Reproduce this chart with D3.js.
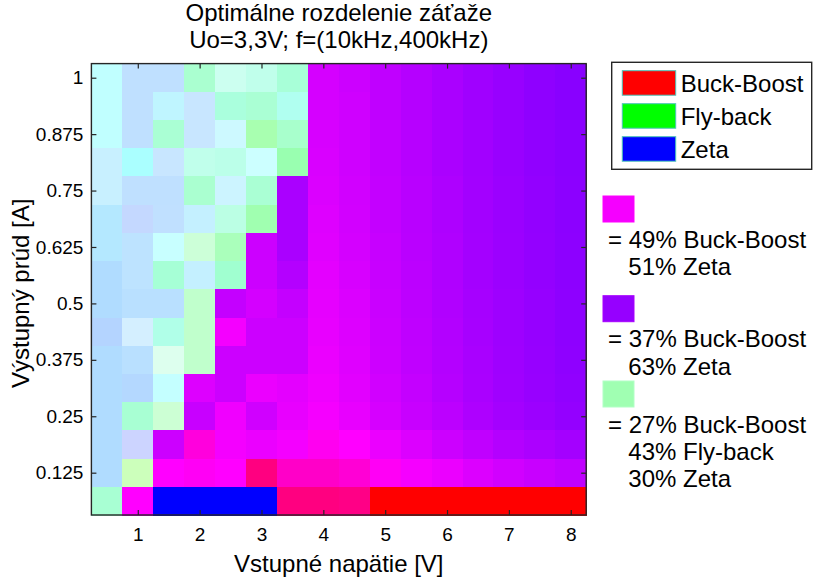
<!DOCTYPE html>
<html>
<head>
<meta charset="utf-8">
<script src="https://cdn.jsdelivr.net/npm/d3@7"></script>
<style>
  body { margin: 0; background: #fff; }
  text { font-family: "Liberation Sans", Arial, sans-serif; fill: #000; }
</style>
</head>
<body>
<div id="chart"></div>
<script>
// input voltage [V] (columns) and output current [A] (rows, top to bottom)
var voltages = [0.5, 1, 1.5, 2, 2.5, 3, 3.5, 4, 4.5, 5, 5.5, 6, 6.5, 7, 7.5, 8];
var currents = [1, 0.9375, 0.875, 0.8125, 0.75, 0.6875, 0.625, 0.5625,
                0.5, 0.4375, 0.375, 0.3125, 0.25, 0.1875, 0.125, 0.0625];

// share of load [%] per converter, zeta = 100 - buck-boost - fly-back
var buckBoostShare = [
  [27.4, 28.5, 28.5, 26.9, 29.2, 28.2, 26.3, 45.5, 44.5, 43.0, 41.5, 40.0, 38.5, 37.3, 36.0, 35.0],
  [27.4, 28.5, 27.7, 29.2, 26.3, 26.7, 26.2, 45.5, 44.8, 43.0, 41.5, 40.0, 38.5, 37.3, 36.0, 35.0],
  [27.4, 28.5, 26.7, 29.2, 28.9, 28.0, 26.8, 45.8, 44.8, 43.2, 41.8, 40.2, 38.8, 37.5, 36.2, 35.2],
  [28.8, 25.0, 29.2, 28.2, 27.7, 28.6, 26.2, 46.0, 44.8, 43.2, 41.8, 40.2, 38.8, 37.5, 36.2, 35.2],
  [28.8, 28.5, 28.5, 26.9, 29.0, 26.7, 40.0, 46.2, 45.0, 43.5, 42.0, 40.5, 39.0, 37.8, 36.5, 35.4],
  [27.0, 29.4, 28.6, 28.4, 27.9, 27.1, 40.0, 46.5, 45.2, 43.5, 42.0, 40.5, 39.0, 37.8, 36.5, 35.4],
  [27.0, 28.2, 28.2, 30.2, 27.8, 44.4, 40.0, 46.8, 45.4, 43.8, 42.2, 40.8, 39.2, 38.0, 36.8, 35.6],
  [27.0, 28.2, 26.1, 28.4, 25.7, 44.4, 41.4, 47.2, 45.8, 44.0, 42.4, 40.8, 39.2, 38.0, 36.8, 35.6],
  [27.0, 27.8, 27.8, 29.5, 43.5, 45.4, 43.5, 47.4, 46.2, 44.2, 42.6, 41.0, 39.4, 38.2, 37.0, 35.8],
  [27.8, 30.0, 26.5, 29.5, 48.9, 44.4, 44.4, 47.6, 46.4, 44.4, 42.8, 41.2, 39.6, 38.2, 37.0, 35.8],
  [27.0, 27.8, 31.0, 29.5, 44.4, 44.4, 44.4, 48.0, 46.6, 44.6, 43.0, 41.4, 39.8, 38.4, 37.2, 36.0],
  [27.0, 27.6, 27.8, 46.4, 44.4, 48.0, 47.2, 48.4, 47.0, 45.0, 43.4, 41.6, 40.0, 38.6, 37.4, 36.2],
  [27.0, 26.5, 30.4, 44.0, 48.5, 44.9, 47.6, 49.0, 47.6, 45.6, 44.0, 42.4, 40.6, 39.2, 38.0, 36.8],
  [27.0, 30.4, 44.4, 53.6, 48.9, 48.0, 48.9, 51.5, 50.0, 48.0, 46.3, 44.4, 43.0, 41.4, 40.3, 39.2],
  [27.0, 31.6, 50.0, 51.0, 50.0, 66.6, 56.0, 56.0, 54.5, 51.0, 49.0, 48.0, 46.3, 45.0, 44.0, 43.0],
  [26.5, 50.0, 0, 0, 0, 0, 66.6, 66.6, 65.5, 100, 100, 100, 100, 100, 100, 100]
];
var flyBackShare = [
  [36.3, 33.4, 33.4, 40.3, 36.5, 37.4, 39.9, 0, 0, 0, 0, 0, 0, 0, 0, 0],
  [36.3, 33.4, 35.4, 33.6, 39.5, 40.0, 38.0, 0, 0, 0, 0, 0, 0, 0, 0, 0],
  [36.3, 33.4, 40.0, 33.6, 35.1, 42.6, 40.7, 0, 0, 0, 0, 0, 0, 0, 0, 0],
  [34.5, 37.5, 33.6, 37.4, 37.8, 35.7, 43.7, 0, 0, 0, 0, 0, 0, 0, 0, 0],
  [34.5, 33.4, 33.4, 40.3, 34.7, 40.0, 0, 0, 0, 0, 0, 0, 0, 0, 0, 0],
  [34.8, 32.4, 33.4, 34.7, 38.1, 43.1, 0, 0, 0, 0, 0, 0, 0, 0, 0, 0],
  [34.8, 33.8, 35.9, 37.8, 41.7, 0, 0, 0, 0, 0, 0, 0, 0, 0, 0, 0],
  [33.8, 33.8, 40.2, 34.7, 40.9, 0, 0, 0, 0, 0, 0, 0, 0, 0, 0, 0],
  [33.8, 33.8, 33.8, 39.2, 0, 0, 0, 0, 0, 0, 0, 0, 0, 0, 0, 0],
  [32.8, 33.9, 38.5, 39.2, 0, 0, 0, 0, 0, 0, 0, 0, 0, 0, 0, 0],
  [33.8, 33.8, 35.7, 39.2, 0, 0, 0, 0, 0, 0, 0, 0, 0, 0, 0, 0],
  [33.8, 33.2, 36.1, 0, 0, 0, 0, 0, 0, 0, 0, 0, 0, 0, 0, 0],
  [33.8, 40.2, 38.0, 0, 0, 0, 0, 0, 0, 0, 0, 0, 0, 0, 0, 0],
  [33.8, 31.6, 0, 0, 0, 0, 0, 0, 0, 0, 0, 0, 0, 0, 0, 0],
  [33.8, 39.5, 0, 0, 0, 0, 0, 0, 0, 0, 0, 0, 0, 0, 0, 0],
  [40.2, 0, 0, 0, 0, 0, 0, 0, 0, 0, 0, 0, 0, 0, 0, 0]
];

var xTicks = [1, 2, 3, 4, 5, 6, 7, 8];
var yTicks = [0.125, 0.25, 0.375, 0.5, 0.625, 0.75, 0.875, 1];

var converters = ["Buck-Boost", "Fly-back", "Zeta"];
// example shares shown next to the plot [buck-boost, fly-back, zeta]
var noteShares = [[49, 0, 51], [37, 0, 63], [27, 43, 30]];

var width = 815, height = 579;
var plot = {left: 91.4, right: 586.2, top: 63.6, bottom: 515};
var axisColor = "#262626";

var svg = d3.select("#chart").append("svg")
    .attr("width", width)
    .attr("height", height);

// colour = shares scaled so that the biggest one is full intensity
function shareColor(s) {
  var m = d3.max(s);
  if (m <= 0) return "#fff";
  return d3.rgb(255 * s[0] / m, 255 * s[1] / m, 255 * s[2] / m) + "";
}

var dx = (voltages[1] - voltages[0]) / 2;
var dy = (currents[0] - currents[1]) / 2;

var x = d3.scaleLinear()
    .domain([voltages[0] - dx, voltages[voltages.length - 1] + dx])
    .range([plot.left, plot.right]);
var y = d3.scaleLinear()
    .domain([currents[currents.length - 1] - dy, currents[0] + dy])
    .range([plot.bottom, plot.top]);

var cells = [];
for (var i = 0; i < currents.length; i++) {
  for (var j = 0; j < voltages.length; j++) {
    var bb = buckBoostShare[i][j], fb = flyBackShare[i][j];
    cells.push({v: voltages[j], c: currents[i], s: [bb, fb, 100 - bb - fb]});
  }
}

svg.append("g").attr("shape-rendering", "crispEdges").selectAll("rect")
    .data(cells)
    .enter().append("rect")
    .attr("x", function(d) { return x(d.v - dx); })
    .attr("y", function(d) { return y(d.c + dy); })
    .attr("width", function(d) { return x(d.v + dx) - x(d.v - dx) + 0.6; })
    .attr("height", function(d) { return y(d.c - dy) - y(d.c + dy) + 0.6; })
    .attr("fill", function(d) { return shareColor(d.s); });

// axes, ticks pointing inwards like matlab
function styleAxis(g, fs) {
  g.select(".domain").remove();
  g.selectAll("line").attr("stroke", axisColor).attr("stroke-width", 1.2);
  g.selectAll("text").attr("font-size", fs).attr("fill", "#000")
    .attr("font-family", "'Liberation Sans', Arial, sans-serif");
}

svg.append("g")
    .attr("transform", "translate(0," + plot.bottom + ")")
    .call(d3.axisBottom(x).tickValues(xTicks).tickSizeInner(-5).tickSizeOuter(0).tickPadding(13))
    .call(styleAxis, 19);
svg.append("g")
    .attr("transform", "translate(0," + plot.top + ")")
    .call(d3.axisTop(x).tickValues(xTicks).tickSizeInner(-5).tickSizeOuter(0).tickFormat(""))
    .call(styleAxis, 19);
svg.append("g")
    .attr("transform", "translate(" + plot.left + ",0)")
    .call(d3.axisLeft(y).tickValues(yTicks).tickSizeInner(-5).tickSizeOuter(0).tickPadding(8)
      .tickFormat(function(d) { return String(d); }))
    .call(styleAxis, 19);
svg.append("g")
    .attr("transform", "translate(" + plot.right + ",0)")
    .call(d3.axisRight(y).tickValues(yTicks).tickSizeInner(-5).tickSizeOuter(0).tickFormat(""))
    .call(styleAxis, 19);

svg.append("rect")
    .attr("x", plot.left).attr("y", plot.top)
    .attr("width", plot.right - plot.left).attr("height", plot.bottom - plot.top)
    .attr("fill", "none").attr("stroke", axisColor).attr("stroke-width", 1.4);

// title and axis labels
var midX = (plot.left + plot.right) / 2;
svg.append("text").attr("x", midX).attr("y", 21).attr("text-anchor", "middle")
    .attr("font-size", 24).text("Optimálne rozdelenie záťaže");
svg.append("text").attr("x", midX).attr("y", 48).attr("text-anchor", "middle")
    .attr("font-size", 24).text("Uo=3,3V; f=(10kHz,400kHz)");
svg.append("text").attr("x", midX).attr("y", 572).attr("text-anchor", "middle")
    .attr("font-size", 24).text("Vstupné napätie [V]");
svg.append("text")
    .attr("transform", "translate(28.5," + ((plot.top + plot.bottom) / 2 + 4) + ") rotate(-90)")
    .attr("text-anchor", "middle").attr("font-size", 24).text("Výstupný prúd [A]");

// legend box
var legend = svg.append("g").attr("transform", "translate(611.7,62.3)");
legend.append("rect").attr("width", 200).attr("height", 107)
    .attr("fill", "#fff").attr("stroke", axisColor).attr("stroke-width", 1.4);
var pureColors = converters.map(function(name, k) {
  var s = [0, 0, 0]; s[k] = 100; return shareColor(s);
});
var item = legend.selectAll(".item").data(converters).enter().append("g")
    .attr("transform", function(d, k) { return "translate(0," + (8.4 + 33 * k) + ")"; });
item.append("rect").attr("x", 10.6).attr("width", 53.4).attr("height", 24.5)
    .attr("fill", function(d, k) { return pureColors[k]; })
    .attr("stroke", "#4cc4b8").attr("stroke-width", 1);
item.append("text").attr("x", 69).attr("y", 21).attr("font-size", 24)
    .text(function(d) { return d; });

// example colour notes
var noteTop = [196, 295.7, 381];
noteShares.forEach(function(s, k) {
  var g = svg.append("g").attr("transform", "translate(0," + noteTop[k] + ")");
  g.append("rect").attr("x", 603).attr("width", 31).attr("height", 26)
      .attr("fill", shareColor(s)).attr("stroke", d3.rgb(shareColor(s)).brighter(0.3)).attr("stroke-width", 1);
  var lines = [];
  s.forEach(function(p, c) { if (p > 0) lines.push(p + "% " + converters[c]); });
  lines.forEach(function(t, n) {
    g.append("text")
        .attr("x", n == 0 ? 608 : 628.3)
        .attr("y", 51.7 + 27.2 * n)
        .attr("font-size", 24)
        .text(n == 0 ? "= " + t : t);
  });
});
</script>
</body>
</html>
